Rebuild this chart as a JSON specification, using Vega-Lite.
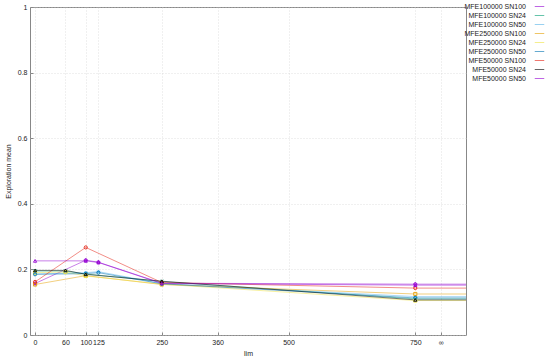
{
  "$schema": "https://vega.github.io/schema/vega-lite/v6.json",
  "autosize": "none",
  "width": 436,
  "height": 328,
  "padding": {"left": 30, "top": 7, "right": 84, "bottom": 22},
  "background": "white",
  "config": {
    "font": "Liberation Sans",
    "view": {"stroke": "#888888", "strokeWidth": 1},
    "axis": {"labelFont": "Liberation Sans", "titleFont": "Liberation Sans", "labelFontSize": 7, "titleFontSize": 7, "titleFontWeight": "normal", "labelColor": "#222", "titleColor": "#222", "domainColor": "#888", "tickColor": "#888", "gridColor": "#cccccc", "gridDash": [1, 2], "gridWidth": 0.6}
  },
  "data": {"values": [
    {"series": "MFE100000 SN100", "lim": 0, "v": 0.157},
    {"series": "MFE100000 SN100", "lim": 100, "v": 0.228},
    {"series": "MFE100000 SN100", "lim": 125, "v": 0.222},
    {"series": "MFE100000 SN100", "lim": 250, "v": 0.158},
    {"series": "MFE100000 SN100", "lim": 750, "v": 0.155},
    {"series": "MFE100000 SN100", "lim": 850, "v": 0.155},
    {"series": "MFE100000 SN24", "lim": 0, "v": 0.195},
    {"series": "MFE100000 SN24", "lim": 60, "v": 0.195},
    {"series": "MFE100000 SN24", "lim": 100, "v": 0.186},
    {"series": "MFE100000 SN24", "lim": 250, "v": 0.163},
    {"series": "MFE100000 SN24", "lim": 750, "v": 0.11},
    {"series": "MFE100000 SN24", "lim": 850, "v": 0.11},
    {"series": "MFE100000 SN50", "lim": 0, "v": 0.186},
    {"series": "MFE100000 SN50", "lim": 100, "v": 0.19},
    {"series": "MFE100000 SN50", "lim": 125, "v": 0.193},
    {"series": "MFE100000 SN50", "lim": 250, "v": 0.157},
    {"series": "MFE100000 SN50", "lim": 750, "v": 0.117},
    {"series": "MFE100000 SN50", "lim": 850, "v": 0.117},
    {"series": "MFE250000 SN100", "lim": 0, "v": 0.154},
    {"series": "MFE250000 SN100", "lim": 100, "v": 0.181},
    {"series": "MFE250000 SN100", "lim": 250, "v": 0.154},
    {"series": "MFE250000 SN100", "lim": 750, "v": 0.125},
    {"series": "MFE250000 SN100", "lim": 850, "v": 0.125},
    {"series": "MFE250000 SN24", "lim": 0, "v": 0.19},
    {"series": "MFE250000 SN24", "lim": 60, "v": 0.192},
    {"series": "MFE250000 SN24", "lim": 100, "v": 0.18},
    {"series": "MFE250000 SN24", "lim": 250, "v": 0.155},
    {"series": "MFE250000 SN24", "lim": 750, "v": 0.105},
    {"series": "MFE250000 SN24", "lim": 850, "v": 0.105},
    {"series": "MFE250000 SN50", "lim": 0, "v": 0.185},
    {"series": "MFE250000 SN50", "lim": 100, "v": 0.187},
    {"series": "MFE250000 SN50", "lim": 125, "v": 0.19},
    {"series": "MFE250000 SN50", "lim": 250, "v": 0.156},
    {"series": "MFE250000 SN50", "lim": 750, "v": 0.113},
    {"series": "MFE250000 SN50", "lim": 850, "v": 0.113},
    {"series": "MFE50000 SN100", "lim": 0, "v": 0.162},
    {"series": "MFE50000 SN100", "lim": 100, "v": 0.267},
    {"series": "MFE50000 SN100", "lim": 250, "v": 0.16},
    {"series": "MFE50000 SN100", "lim": 750, "v": 0.143},
    {"series": "MFE50000 SN100", "lim": 850, "v": 0.143},
    {"series": "MFE50000 SN24", "lim": 0, "v": 0.197},
    {"series": "MFE50000 SN24", "lim": 60, "v": 0.197},
    {"series": "MFE50000 SN24", "lim": 100, "v": 0.185},
    {"series": "MFE50000 SN24", "lim": 250, "v": 0.164},
    {"series": "MFE50000 SN24", "lim": 750, "v": 0.107},
    {"series": "MFE50000 SN24", "lim": 850, "v": 0.107},
    {"series": "MFE50000 SN50", "lim": 0, "v": 0.226},
    {"series": "MFE50000 SN50", "lim": 100, "v": 0.226},
    {"series": "MFE50000 SN50", "lim": 125, "v": 0.221},
    {"series": "MFE50000 SN50", "lim": 250, "v": 0.157},
    {"series": "MFE50000 SN50", "lim": 750, "v": 0.152},
    {"series": "MFE50000 SN50", "lim": 850, "v": 0.152}
  ]},
  "encoding": {
    "x": {"field": "lim", "type": "quantitative", "title": "lim",
      "scale": {"domain": [-10, 850], "nice": false, "zero": false},
      "axis": {"values": [0, 60, 100, 125, 250, 360, 500, 750, 800], "labelExpr": "datum.value == 800 ? '∞' : datum.label", "tickSize": -3, "labelPadding": 6, "titlePadding": 4, "domain": false, "grid": true}},
    "y": {"field": "v", "type": "quantitative", "title": "Exploration mean",
      "scale": {"domain": [0, 1], "nice": false},
      "axis": {"values": [0, 0.2, 0.4, 0.6, 0.8, 1], "format": "~g", "tickSize": -3, "labelPadding": 6, "titlePadding": 6, "domain": false, "grid": true}},
    "color": {"field": "series", "type": "nominal",
      "scale": {"range": ["#9400d3", "#009e73", "#56b4e9", "#e69f00", "#f0e442", "#0072b2", "#e51e10", "#000000", "#9400d3"]},
      "legend": {"title": null, "orient": "none", "legendX": 442, "legendY": -6, "padding": 0, "symbolType": "stroke", "symbolSize": 90, "symbolStrokeWidth": 1, "symbolOpacity": 0.6, "labelFontSize": 7, "labelFont": "Liberation Sans", "labelColor": "#222", "labelAlign": "right", "labelOffset": -19, "rowPadding": 0, "symbolOffset": 62, "labelLimit": 200}
    }
  },
  "layer": [
    {"mark": {"type": "line", "strokeWidth": 1, "strokeOpacity": 0.5, "clip": true}},
    {"transform": [{"filter": "datum.lim <= 750"}],
     "mark": {"type": "point", "filled": false, "size": 10, "strokeWidth": 1, "opacity": 0.9},
     "encoding": {"shape": {"field": "series", "type": "nominal", "legend": null,
       "scale": {"range": ["cross", "M-1,-1L1,1M-1,1L1,-1", "M-1,0L1,0M0,-1L0,1M-0.7,-0.7L0.7,0.7M-0.7,0.7L0.7,-0.7", "square", "square", "circle", "circle", "triangle-up", "triangle-up"]}}}}
  ]
}
